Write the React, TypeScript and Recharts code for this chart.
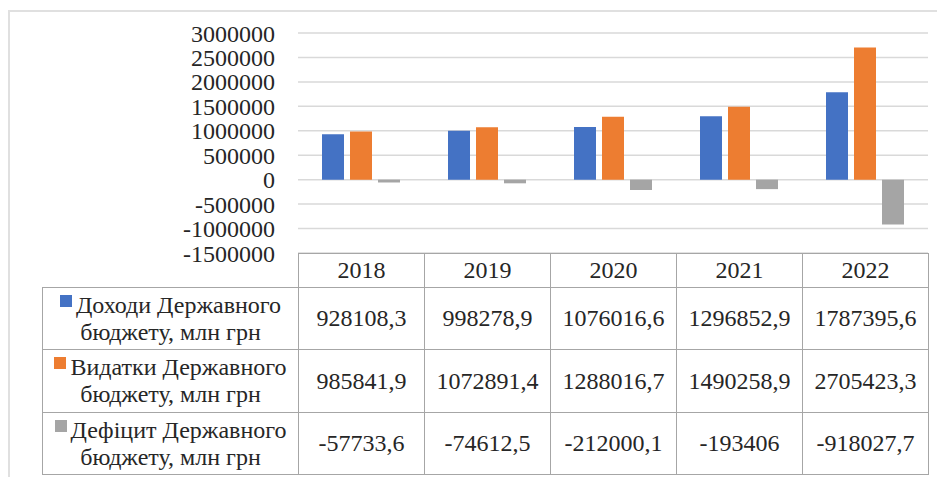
import React from 'react';
import { BarChart, Bar, XAxis, YAxis, CartesianGrid } from 'recharts';

const years = ['2018', '2019', '2020', '2021', '2022'];
const revenue = [928108.3, 998278.9, 1076016.6, 1296852.9, 1787395.6];
const expenses = [985841.9, 1072891.4, 1288016.7, 1490258.9, 2705423.3];
const deficit = [-57733.6, -74612.5, -212000.1, -193406, -918027.7];
const yTicks = [-1500000, -1000000, -500000, 0, 500000, 1000000, 1500000, 2000000, 2500000, 3000000];

const series = [
    { key: 'revenue', name: 'Доходи Державного бюджету, млн грн', color: '#4472C4', values: revenue },
    { key: 'expenses', name: 'Видатки Державного бюджету, млн грн', color: '#ED7D31', values: expenses },
    { key: 'deficit', name: 'Дефіцит Державного бюджету, млн грн', color: '#A5A5A5', values: deficit },
];

const chartData = years.map((year, i) => ({
    year,
    revenue: revenue[i],
    expenses: expenses[i],
    deficit: deficit[i],
}));

const font = '"Times New Roman", "Liberation Serif", "Noto Serif", "DejaVu Serif", Times, serif';
const textColor = '#262626';
const border = '1.5px solid #a6a6a6';

const fmt = (v: number) => String(v).replace('.', ',');

const App: React.FC = () => {
    const cell: React.CSSProperties = {
        border,
        textAlign: 'center',
        verticalAlign: 'middle',
        padding: 0,
    };

    return (
        <div style={{ position: 'absolute', left: 0, top: 0, width: 937, height: 477, background: '#fff', overflow: 'hidden', fontFamily: font, color: textColor }}>
            <div style={{ position: 'absolute', left: 8, top: 10, width: 1000, height: 600, borderTop: '2px solid #e0e0e0', borderLeft: '2px solid #e0e0e0' }} />
            <div style={{ position: 'absolute', left: 0, top: 0 }}>
                <BarChart
                    width={937}
                    height={280}
                    data={chartData}
                    margin={{ top: 33, right: 9, bottom: 27, left: 0 }}
                    barSize={22}
                    barGap={6}
                    style={{ fontFamily: font }}
                >
                    <CartesianGrid vertical={false} stroke="#d9d9d9" strokeWidth={1.5} />
                    <XAxis dataKey="year" hide />
                    <YAxis
                        width={298}
                        domain={[-1500000, 3000000]}
                        ticks={yTicks}
                        interval={0}
                        axisLine={false}
                        tickLine={false}
                        tickSize={0}
                        tickMargin={23}
                        tickFormatter={(v: number) => String(v)}
                        tick={{ fill: textColor, fontSize: 24, fontFamily: font }}
                    />
                    {series.map((s) => (
                        <Bar key={s.key} dataKey={s.key} name={s.name} fill={s.color} isAnimationActive={false} />
                    ))}
                </BarChart>
            </div>
            <table
                style={{
                    position: 'absolute',
                    left: 42,
                    top: 253,
                    borderCollapse: 'collapse',
                    tableLayout: 'fixed',
                    width: 886,
                    fontSize: 24,
                    fontFamily: font,
                    color: textColor,
                }}
            >
                <colgroup>
                    <col style={{ width: 256 }} />
                    {years.map((y) => (
                        <col key={y} style={{ width: 126 }} />
                    ))}
                </colgroup>
                <tbody>
                    <tr style={{ height: 34 }}>
                        <td style={{ border: 'none', padding: 0 }} />
                        {years.map((y) => (
                            <td key={y} style={cell}>{y}</td>
                        ))}
                    </tr>
                    {series.map((s, idx) => {
                        const cut = s.name.indexOf(' бюджету');
                        const line1 = s.name.slice(0, cut);
                        const line2 = s.name.slice(cut + 1);
                        return (
                            <tr key={s.key} style={{ height: idx === 1 ? 63 : 62 }}>
                                <td style={{ ...cell, lineHeight: '27px' }}>
                                    <div style={{ whiteSpace: 'nowrap' }}>
                                        <span style={{ display: 'inline-block', width: 12, height: 12, background: s.color, marginRight: 4, verticalAlign: 'middle', position: 'relative', top: -6 }} />
                                        {line1}
                                    </div>
                                    <div style={{ whiteSpace: 'nowrap' }}>{line2}</div>
                                </td>
                                {s.values.map((v, i) => (
                                    <td key={i} style={cell}>{fmt(v)}</td>
                                ))}
                            </tr>
                        );
                    })}
                </tbody>
            </table>
        </div>
    );
};

export default App;
